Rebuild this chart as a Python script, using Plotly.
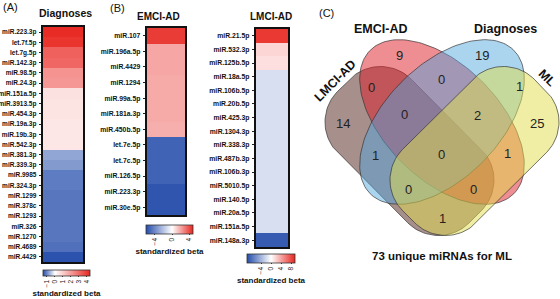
import numpy as np
import plotly.graph_objects as go

W, H = 560, 299
FONT = "Liberation Sans, Arial, sans-serif"

# ---------------- data ----------------
diag_labels = ["miR.223.3p", "let.7f.5p", "let.7g.5p", "miR.142.3p", "miR.98.5p", "miR.24.3p",
               "miR.151a.5p", "miR.3913.5p", "miR.454.3p", "miR.19a.3p", "miR.19b.3p", "miR.542.3p",
               "miR.381.3p", "miR.339.3p", "miR.9985", "miR.324.3p", "miR.1299", "miR.378c",
               "miR.1293", "miR.326", "miR.1270", "miR.4689", "miR.4429"]
diag_beta = [4.3, 4.1, 3.2, 3.1, 2.2, 2.1, 0.6, 0.55, 0.55, 0.5, 0.5, 0.5,
             -0.75, -0.85, -1.1, -1.1, -1.15, -1.15, -1.15, -1.15, -1.15, -1.2, -1.45]
diag_ticks = [-1, 0, 1, 2, 3, 4]

emci_labels = ["miR.107", "miR.196a.5p", "miR.4429", "miR.1294", "miR.99a.5p", "miR.181a.3p",
               "miR.450b.5p", "let.7e.5p", "let.7c.5p", "miR.126.5p", "miR.223.3p", "miR.30e.5p"]
emci_beta = [4.4, 2.0, 2.0, 1.9, 1.9, 1.9, 1.8, -5.3, -5.3, -5.3, -5.8, -5.8]
emci_ticks = [-4, 0, 4]

lmci_labels = ["miR.21.5p", "miR.532.3p", "miR.125b.5p", "miR.18a.5p", "miR.106b.5p", "miR.20b.5p",
               "miR.425.3p", "miR.1304.3p", "miR.338.3p", "miR.487b.3p", "miR.106b.3p",
               "miR.5010.5p", "miR.140.5p", "miR.20a.5p", "miR.151a.5p", "miR.148a.3p"]
lmci_beta = [8.8, 1.8, 1.4, -1.7, -1.7, -1.7, -1.7, -1.7, -1.7, -1.7, -1.7, -1.7, -1.7, -1.7, -1.7, -8.8]
lmci_ticks = [-4, 0, 4, 8]

venn_sets = ["LMCI-AD", "EMCI-AD", "Diagnoses", "ML"]
venn_regions = ["EMCI-AD", "Diagnoses", "LMCI-AD&EMCI-AD", "EMCI-AD&Diagnoses", "Diagnoses&ML",
                "LMCI-AD", "LMCI-AD&EMCI-AD&Diagnoses", "EMCI-AD&Diagnoses&ML", "ML",
                "LMCI-AD&Diagnoses", "all", "EMCI-AD&ML", "LMCI-AD&Diagnoses&ML",
                "LMCI-AD&EMCI-AD&ML", "LMCI-AD&ML"]
venn_counts = [9, 19, 0, 0, 1, 14, 0, 2, 25, 1, 0, 1, 0, 0, 1]
venn_total_label = "73 unique miRNAs for ML"

# ---------------- layout helpers (pixels -> paper) ----------------
def px(x):
    return x / W

def py(y):
    return 1 - y / H

# label positions for Venn regions (pixel space)
venn_label_xy = [(399, 55), (482, 55), (371, 87), (441, 79), (519, 86), (343, 123), (404, 114),
                 (477, 115), (537, 123), (375, 155), (441, 154), (507, 153), (408, 189), (473, 189),
                 (442, 218)]

BLUE = (36, 76, 170)
RED = (232, 38, 32)


def cscale(zmin, zmax):
    m = -zmin / (zmax - zmin)
    return [[0, "rgb(%d,%d,%d)" % BLUE], [m, "rgb(255,255,255)"], [1, "rgb(%d,%d,%d)" % RED]]


fig = go.Figure()

panels = [
    # labels, values, ticks, zmin, zmax, axis suffix, box px (x0,x1,y0,y1), cbar (x0,x1,ytop,thick), label size
    (diag_labels, diag_beta, diag_ticks, -1.5, 4.4, "", (43, 83, 27, 262), (43, 90, 270, 6), 6.5),
    (emci_labels, emci_beta, emci_ticks, -6.1, 4.9, "2", (147, 185, 28, 215), (146, 193, 225, 9), 6.8),
    (lmci_labels, lmci_beta, lmci_ticks, -9.6, 9.6, "3", (256, 288, 29, 247), (247, 295, 254, 9), 6.8),
]

for labels, vals, ticks, zmin, zmax, sfx, box, cb, fs in panels:
    fig.add_trace(go.Heatmap(
        z=[[v] for v in vals], y=labels, x=[0],
        zmin=zmin, zmax=zmax, colorscale=cscale(zmin, zmax),
        xaxis="x" + sfx, yaxis="y" + sfx,
        colorbar=dict(
            orientation="h", x=px((cb[0] + cb[1]) / 2), xanchor="center",
            y=py(cb[2]), yanchor="top", len=cb[1] - cb[0], lenmode="pixels",
            thickness=cb[3], thicknessmode="pixels", xpad=0, ypad=0,
            outlinewidth=0.8, outlinecolor="#333",
            tickvals=ticks, ticks="outside", ticklen=1.5, tickwidth=0.8, tickcolor="#333",
            tickangle=-90, tickfont=dict(family=FONT, size=6.5, color="#222"),
            title=dict(text="standardized beta", side="bottom",
                       font=dict(family=FONT, size=8, color="#111", weight="bold")),
        ),
    ))
    x0, x1, y0, y1 = box
    fig.layout["xaxis" + sfx] = dict(domain=[px(x0), px(x1)], showticklabels=False, ticks="",
                                     showgrid=False, zeroline=False, showline=True, mirror=True,
                                     linecolor="#111", linewidth=1.5, fixedrange=True,
                                     anchor="y" + sfx)
    fig.layout["yaxis" + sfx] = dict(domain=[py(y1), py(y0)], type="category", autorange="reversed",
                                     showgrid=False, zeroline=False, showline=True, mirror=True,
                                     linecolor="#111", linewidth=1.5, ticks="outside", ticklen=2.5,
                                     tickwidth=1, tickcolor="#222", ticklabelstandoff=1,
                                     tickfont=dict(family=FONT, size=fs, color="#111", weight="bold"),
                                     anchor="x" + sfx)

# ---------------- Venn ----------------
def rounded_rect(cx, cy, A, B, r, ang, n=30):
    pts = []
    corners = [(A - r, B - r, 0), (-(A - r), B - r, 90), (-(A - r), -(B - r), 180), (A - r, -(B - r), 270)]
    for qx, qy, st in corners:
        for t in np.linspace(st, st + 90, n):
            th = np.radians(t)
            pts.append((qx + r * np.cos(th), qy + r * np.sin(th)))
    pts.append(pts[0])
    p = np.array(pts)
    a = np.radians(ang)
    xs = cx + p[:, 0] * np.cos(a) - p[:, 1] * np.sin(a)
    ys = cy + p[:, 0] * np.sin(a) + p[:, 1] * np.cos(a)
    return xs, ys


def ellipse(cx, cy, a, b, ang, n=160):
    t = np.linspace(0, 2 * np.pi, n)
    ex, ey = a * np.cos(t), b * np.sin(t)
    g = np.radians(ang)
    return cx + ex * np.cos(g) - ey * np.sin(g), cy + ex * np.sin(g) + ey * np.cos(g)


venn_fill = {"LMCI-AD": "rgba(80,32,26,0.5)", "EMCI-AD": "rgba(222,28,38,0.5)",
             "Diagnoses": "rgba(80,165,222,0.48)", "ML": "rgba(226,222,76,0.5)"}
shape_xy = {
    "LMCI-AD": rounded_rect(409.5, 151, 93, 52, 43.5, 45),
    "EMCI-AD": ellipse(442, 122, 101.5, 57, 45),
    "Diagnoses": ellipse(442, 122, 101.5, 57, 135),
    "ML": rounded_rect(474.5, 151, 93, 52, 43.5, 135),
}
for s in venn_sets:
    xs, ys = shape_xy[s]
    fig.add_trace(go.Scatter(x=xs, y=ys, mode="lines", fill="toself", fillcolor=venn_fill[s],
                             line=dict(color="rgba(50,50,50,0.85)", width=0.8),
                             xaxis="x4", yaxis="y4", hoverinfo="skip", showlegend=False))

fig.layout.xaxis4 = dict(domain=[0, 1], range=[0, W], autorange=False, visible=False,
                         fixedrange=True, anchor="y4")
fig.layout.yaxis4 = dict(domain=[0, 1], range=[H, 0], autorange=False, visible=False,
                         fixedrange=True, anchor="x4")

ann = []
for cnt, (x, y) in zip(venn_counts, venn_label_xy):
    ann.append(dict(x=x, y=y, xref="x4", yref="y4", text=str(cnt), showarrow=False,
                    font=dict(family=FONT, size=13, color="#222")))

set_label_xy = {"EMCI-AD": (380, 29, 0), "Diagnoses": (505, 29, 0), "LMCI-AD": (335, 81, -45),
                "ML": (547, 78, 45)}
for s in venn_sets:
    x, y, a = set_label_xy[s]
    ann.append(dict(x=x, y=y, xref="x4", yref="y4", text=s, showarrow=False, textangle=a,
                    font=dict(family=FONT, size=12.5, color="#111", weight="bold")))
ann.append(dict(x=442, y=256, xref="x4", yref="y4", text=venn_total_label, showarrow=False,
                font=dict(family=FONT, size=11.5, color="#111", weight="bold")))

# panel titles and letters
for txt, x, y, bold, size in [("(A)", 10, 7, False, 11), ("(B)", 117, 8, False, 11), ("(C)", 326, 13, False, 11),
                              ("Diagnoses", 65, 13.5, True, 10.5), ("EMCI-AD", 158, 16.5, True, 10),
                              ("LMCI-AD", 271, 16.5, True, 10)]:
    ann.append(dict(x=px(x), y=py(y), xref="paper", yref="paper", text=txt, showarrow=False,
                    xanchor="center", yanchor="middle",
                    font=dict(family=FONT, size=size, color="#111", weight="bold" if bold else "normal")))

fig.update_layout(width=W, height=H, margin=dict(l=0, r=0, t=0, b=0, pad=0, autoexpand=False),
                  paper_bgcolor="white", plot_bgcolor="rgba(0,0,0,0)",
                  annotations=ann, showlegend=False)

fig.write_html("out.html", config={"displayModeBar": False},
               post_script="document.body.style.margin='0';document.body.style.overflow='hidden';")
